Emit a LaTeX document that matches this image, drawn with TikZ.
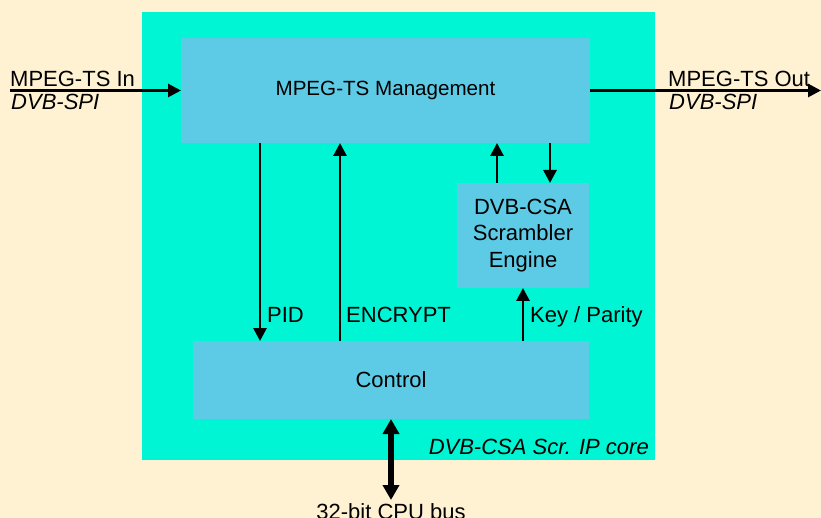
\documentclass[tikz,border=0pt]{standalone}
\usepackage{fontspec}
\setmainfont{Liberation Sans}
\usetikzlibrary{arrows.meta}
\definecolor{bgc}{RGB}{255,242,210}
\definecolor{corec}{RGB}{0,245,212}
\definecolor{blockc}{RGB}{94,203,230}
\tikzset{
  blk/.style={fill=blockc, draw=none, inner sep=0pt, outer sep=0pt, align=center},
  lbl/.style={inner sep=0pt, font=\fontsize{22}{26.5}\selectfont},
  sig/.style={line width=2.8pt, -{Triangle[length=13pt,width=13pt]}},
  bus/.style={line width=6pt, {Triangle[length=15pt,width=16pt]}-{Triangle[length=15pt,width=16pt]}},
}
\begin{document}
\begin{tikzpicture}[x=1pt,y=-1pt]
\fill[bgc] (0,0) rectangle (821,518);
\useasboundingbox (0,0) rectangle (821,518);
\fill[corec] (142,12) rectangle (655,460);
\node[blk, lbl, font=\fontsize{20.6}{24}\selectfont, minimum width=409pt, minimum height=105pt] (mgmt) at (385.5,90.5) {MPEG-TS Management};
\node[blk, lbl, minimum width=132pt, minimum height=105pt] (csa) at (523,235.5) {DVB-CSA\\Scrambler\\Engine};
\node[blk, lbl, minimum width=396pt, minimum height=78pt] (ctrl) at (391,380) {Control};
% external ends
\coordinate (inL) at (10,90.5);
\coordinate (outR) at (821,90.5);
\coordinate (busB) at (391,500);
\draw[sig] (inL) -- (mgmt.west |- inL);
\draw[sig] (mgmt.east |- outR) -- (outR);
% internal
\draw[sig] (mgmt.south -| 260,0) -- (ctrl.north -| 260,0);
\draw[sig] (ctrl.north -| 340,0) -- (mgmt.south -| 340,0);
\draw[sig] (csa.north -| 497,0) -- (mgmt.south -| 497,0);
\draw[sig] (mgmt.south -| 550,0) -- (csa.north -| 550,0);
\draw[sig] (ctrl.north -| 523,0) -- (csa.south -| 523,0);
\draw[bus] (ctrl.south -| busB) -- (busB);
% labels
\node[lbl, anchor=base west] (tin) at (10,87) {MPEG-TS In};
\node[lbl, anchor=base west] (tins) at (11,110) {\itshape DVB-SPI};
\node[lbl, anchor=base west] (tout) at (668,87) {MPEG-TS Out};
\node[lbl, anchor=base west] (touts) at (669,110) {\itshape DVB-SPI};
\node[lbl, anchor=base west] (lpid) at (267,322) {PID};
\node[lbl, anchor=base west] (lenc) at (346,322) {ENCRYPT};
\node[lbl, anchor=base west] (lkey) at (530,322) {Key / Parity};
\node[lbl, anchor=base east] (lcore) at (649,454) {\itshape DVB-CSA Scr. IP core};
\node[lbl, anchor=base] (lbus) at (391,519) {32-bit CPU bus};
\end{tikzpicture}
\end{document}
